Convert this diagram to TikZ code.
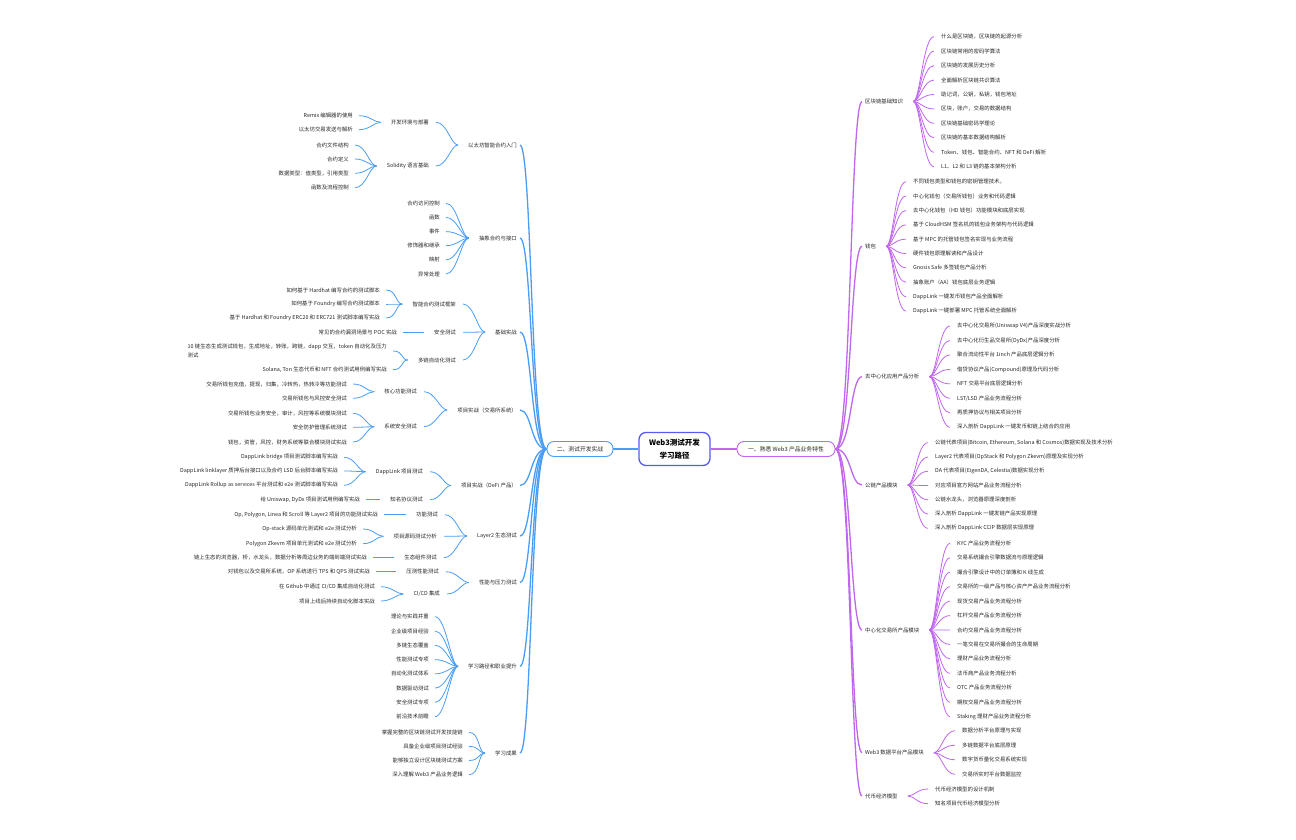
\documentclass[tikz,border=0pt]{standalone}
\usepackage{fontspec}
\setmainfont{Noto Sans CJK SC}
\usetikzlibrary{positioning}
\definecolor{purp}{RGB}{193,102,238}
\definecolor{blu}{RGB}{74,157,246}
\definecolor{hubc}{RGB}{88,90,240}
\definecolor{txt}{RGB}{40,40,40}
\tikzset{
  hub/.style={draw=hubc, line width=1.3pt, rounded corners=7pt, fill=white, minimum width=71pt, minimum height=33pt, inner sep=0pt, align=center, font=\fontsize{7.5}{12.5}\selectfont\bfseries},
  mainr/.style={draw=purp, line width=0.9pt, rounded corners=7pt, fill=white, minimum width=98pt, minimum height=15pt, inner sep=0pt, text=txt, font=\fontsize{5.8}{7}\selectfont},
  mainl/.style={mainr, draw=blu, minimum width=66pt},
  topic/.style={inner sep=0pt, text=txt, font=\fontsize{5.4}{6.5}\selectfont},
  leaf/.style={inner sep=0pt, text=txt, align=left, font=\fontsize{5.4}{8.6}\selectfont},
  rtrunk/.style={draw=purp, line width=1.3pt},
  ltrunk/.style={draw=blu, line width=1.3pt},
  rline/.style={draw=purp, line width=0.8pt},
  lline/.style={draw=blu, line width=0.8pt},
}
\begin{document}
\begin{tikzpicture}[x=1pt,y=-1pt]
\fill[white] (0,0) rectangle (1296,840);
\useasboundingbox (0,0) rectangle (1296,840);
% centre
\node[hub] (hub) at (674.5,449) {Web3测试开发\\学习路径};
\node[mainr] (r0) at (786,449) {一、熟悉 Web3 产品业务特性};
\node[mainl] (l0) at (580,449) {二、测试开发实战};
\draw[rtrunk, line width=2pt] (hub) -- (r0);
\draw[ltrunk, line width=2pt] (hub) -- (l0);

% right side topics
\foreach \nm/\y/\lbl in {r1/101.5/区块链基础知识, r2/246.3/钱包, r3/376.7/去中心化应用产品分析, r4/485/公链产品模块, r5/630/中心化交易所产品模块, r6/752.7/{Web3 数据平台产品模块}, r7/796/代币经济模型}{
  \node[topic, anchor=west] (\nm) at (865,\y) {\lbl};
  \coordinate (\nm-f) at ([xshift=10pt]\nm.east);
  \draw[rtrunk] (r0.east) .. controls +(16,0) and +(-12,0) .. ([xshift=-3pt]\nm.west);
}
\foreach \lbl [count=\i] in {{什么是区块链，区块链的起源分析}, {区块链常用的密码学算法}, {区块链的发展历史分析}, {全面解析区块链共识算法}, {助记词，公钥，私钥，钱包地址}, {区块，账户，交易的数据结构}, {区块链基础密码学理论}, {区块链的基本数据结构解析}, {Token、钱包、智能合约、NFT 和 DeFi 解析}, {L1、L2 和 L3 链的基本架构分析}}{
  \node[leaf, anchor=west] (r1-\i) at (941,{36.7+14.45*(\i-1)}) {\lbl};
  \draw[rline] (r1-f) .. controls +(7,0) and +(-11,0) .. ([xshift=-7pt]r1-\i.west);
}
\foreach \lbl [count=\i] in {{不同钱包类型和钱包的密钥管理技术。}, {中心化钱包（交易所钱包）业务和代码逻辑}, {去中心化钱包（HD 钱包）功能模块和底层实现}, {基于 CloudHSM 签名机的钱包业务架构与代码逻辑}, {基于 MPC 的托管钱包签名实现与业务流程}, {硬件钱包原理解读和产品设计}, {Gnosis Safe 多签钱包产品分析}, {抽象账户（AA）钱包底层业务逻辑}, {DappLink 一键发币钱包产品全面解析}, {DappLink 一键部署 MPC 托管系统全面解析}}{
  \node[leaf, anchor=west] (r2-\i) at (913,{181.7+14.37*(\i-1)}) {\lbl};
  \draw[rline] (r2-f) .. controls +(7,0) and +(-11,0) .. ([xshift=-7pt]r2-\i.west);
}
\foreach \lbl [count=\i] in {{去中心化交易所(Uniswap V4)产品深度实战分析}, {去中心化衍生品交易所(DyDx)产品深度分析}, {聚合流动性平台 1inch 产品底层逻辑分析}, {借贷协议产品(Compound)原理及代码分析}, {NFT 交易平台底层逻辑分析}, {LST/LSD 产品业务流程分析}, {再质押协议与相关项目分析}, {深入剖析 DappLink 一键发币和链上结合的应用}}{
  \node[leaf, anchor=west] (r3-\i) at (957,{326+14.47*(\i-1)}) {\lbl};
  \draw[rline] (r3-f) .. controls +(7,0) and +(-11,0) .. ([xshift=-7pt]r3-\i.west);
}
\foreach \lbl [count=\i] in {{公链代表项目(Bitcoin, Ethereum, Solana 和 Cosmos)数据实现及技术分析}, {Layer2 代表项目(OpStack 和 Polygon Zkevm)原理及实现分析}, {DA 代表项目(EigenDA, Celestia)数据实现分析}, {对应项目官方网站产品业务流程分析}, {公链水龙头，浏览器原理深度剖析}, {深入剖析 DappLink 一键发链产品实现原理}, {深入剖析 DappLink CCIP 数据层实现原理}}{
  \node[leaf, anchor=west] (r4-\i) at (935,{442.7+14.27*(\i-1)}) {\lbl};
  \draw[rline] (r4-f) .. controls +(7,0) and +(-11,0) .. ([xshift=-7pt]r4-\i.west);
}
\foreach \lbl [count=\i] in {{KYC 产品业务流程分析}, {交易系统撮合引擎数据流与原理逻辑}, {撮合引擎设计中的订单簿和 K 线生成}, {交易所的一级产品与核心资产产品业务流程分析}, {现货交易产品业务流程分析}, {杠杆交易产品业务流程分析}, {合约交易产品业务流程分析}, {一笔交易在交易所撮合的生命周期}, {理财产品业务流程分析}, {法币商产品业务流程分析}, {OTC 产品业务流程分析}, {期权交易产品业务流程分析}, {Staking 理财产品业务流程分析}}{
  \node[leaf, anchor=west] (r5-\i) at (957,{543.3+14.45*(\i-1)}) {\lbl};
  \draw[rline] (r5-f) .. controls +(7,0) and +(-11,0) .. ([xshift=-7pt]r5-\i.west);
}
\foreach \lbl [count=\i] in {{数据分析平台原理与实现}, {多链数据平台底层原理}, {数字货币量化交易系统实现}, {交易所实时平台数据监控}}{
  \node[leaf, anchor=west] (r6-\i) at (962,{730.7+14.53*(\i-1)}) {\lbl};
  \draw[rline] (r6-f) .. controls +(7,0) and +(-11,0) .. ([xshift=-7pt]r6-\i.west);
}
\foreach \lbl [count=\i] in {{代币经济模型的设计机制}, {知名项目代币经济模型分析}}{
  \node[leaf, anchor=west] (r7-\i) at (935,{789+14.7*(\i-1)}) {\lbl};
  \draw[rline] (r7-f) .. controls +(7,0) and +(-11,0) .. ([xshift=-7pt]r7-\i.west);
}

% left side topics
\foreach \nm/\y/\lbl in {lA/145/以太坊智能合约入门, lB/238/抽象合约与接口, lC/332/基础实战, lD/410/项目实战（交易所系统）, lE/485.5/{项目实战（DeFi 产品）}, lF/536/{Layer2 生态测试}, lG/582.5/性能与压力测试, lH/666.3/学习路径和职业提升, lI/753/学习成果}{
  \node[topic, anchor=east] (\nm) at (517,\y) {\lbl};
  \coordinate (\nm-f) at ([xshift=-10pt]\nm.west);
  \draw[ltrunk] (l0.west) .. controls +(-16,0) and +(12,0) .. ([xshift=3pt]\nm.east);
}
\foreach \p/\nm/\x/\y/\lbl in {lA/lA1/429/122.3/开发环境与部署, lA/lA2/429/166/{Solidity 语言基础}, lC/lC1/456/304/智能合约测试框架, lC/lC2/456/332.3/安全测试, lC/lC3/456/360/多链自动化测试, lD/lD1/417/391.7/核心功能测试, lD/lD2/417/426.7/系统安全测试, lE/lE1/423/471.7/{DappLink 项目测试}, lE/lE2/423/499.7/知名协议测试, lF/lF1/438/514.7/功能测试, lF/lF2/437/536.3/项目源码测试分析, lF/lF3/437/557.7/生态组件测试, lG/lG1/439/571.7/压测性能测试, lG/lG2/440/594/{CI/CD 集成}}{
  \node[topic, anchor=east] (\nm) at (\x,\y) {\lbl};
  \coordinate (\nm-f) at ([xshift=-10pt]\nm.west);
  \draw[lline] (\p-f) .. controls +(-7,0) and +(11,0) .. ([xshift=7pt]\nm.east);
}
\foreach \p/\x/\y/\lbl [count=\i] in {
  lA1/353/115.7/{Remix 编辑器的使用}, lA1/353/129.7/{以太坊交易发送与解析},
  lA2/349/145/{合约文件结构}, lA2/349/159/{合约定义}, lA2/349/173.3/{数据类型：值类型，引用类型}, lA2/349/187.7/{函数及流程控制},
  lB/440/203.3/{合约访问控制}, lB/440/217.4/{函数}, lB/440/231.6/{事件}, lB/440/245.7/{修饰器和继承}, lB/440/259.9/{映射}, lB/440/274/{异常处理},
  lC1/380/290/{如何基于 Hardhat 编写合约的测试脚本}, lC1/380/304/{如何基于 Foundry 编写合约测试脚本}, lC1/380/318/{基于 Hardhat 和 Foundry ERC20 和 ERC721 测试脚本编写实战},
  lC2/397/332.3/{常见的合约漏洞场景与 POC 实战},
  lC3/387/351/{10 链生态生成测试钱包，生成地址，转账，跨链，dapp 交互，token 自动化及压力\\测试}, lC3/387/369.7/{Solana, Ton 生态代币和 NFT 合约测试用例编写实战},
  lD1/347/384/{交易所钱包充值，提现，归集，冷转热，热转冷等功能测试}, lD1/347/398.3/{交易所钱包与风控安全测试},
  lD2/347/413.3/{交易所钱包业务安全，审计，风控等系统模块测试}, lD2/347/427.3/{安全防护管理系统测试}, lD2/347/442/{钱包，资管，风控，财务系统等联合模块测试实战},
  lE1/338/457.3/{DappLink bridge 项目测试脚本编写实战}, lE1/338/471/{DappLink linklayer 质押后台接口以及合约 LSD 后台脚本编写实战}, lE1/338/485.3/{DappLink Rollup as services 平台测试和 e2e 测试脚本编写实战},
  lE2/360/499.7/{给 Uniswap, DyDx 项目测试用例编写实战},
  lF1/378/514.7/{Op, Polygon, Linea 和 Scroll 等 Layer2 项目的功能测试实战},
  lF2/357/529/{Op-stack 源码单元测试和 e2e 测试分析}, lF2/357/543.7/{Polygon Zkevm 项目单元测试和 e2e 测试分析},
  lF3/367/557.7/{链上生态的浏览器，桥，水龙头，数据分析等周边业务的端到端测试实战},
  lG1/370/571.7/{对钱包以及交易所系统，OP 系统进行 TPS 和 QPS 测试实战},
  lG2/375/586.7/{在 Github 中通过 CI/CD 集成自动化测试}, lG2/375/601/{项目上线后持续自动化脚本实战},
  lH/429/616.7/{理论与实践并重}, lH/429/631/{企业级项目经验}, lH/429/645.3/{多链生态覆盖}, lH/429/659.6/{性能测试专项}, lH/429/673.9/{自动化测试体系}, lH/429/688.1/{数据驱动测试}, lH/429/702.4/{安全测试专项}, lH/429/716.7/{前沿技术前瞻},
  lI/463/732.3/{掌握完整的区块链测试开发技能链}, lI/463/746.4/{具备企业级项目测试经验}, lI/463/760.5/{能够独立设计区块链测试方案}, lI/463/774.7/{深入理解 Web3 产品业务逻辑}}{
  \node[leaf, anchor=east] (ll-\i) at (\x,\y) {\lbl};
  \draw[lline] (\p-f) .. controls +(-7,0) and +(11,0) .. ([xshift=6pt]ll-\i.east);
}
\end{tikzpicture}
\end{document}
